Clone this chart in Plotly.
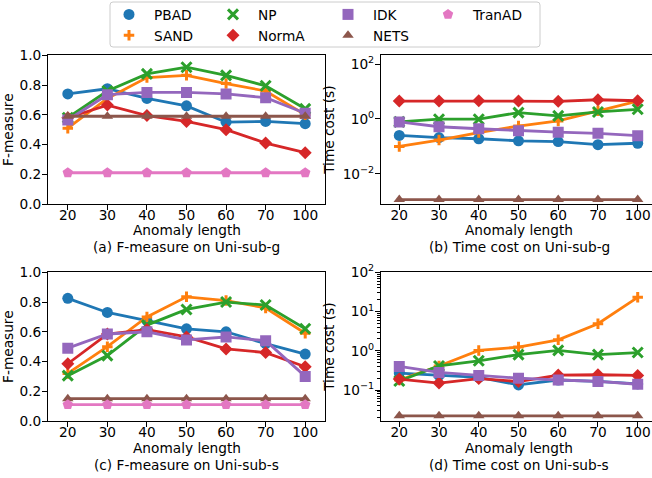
import plotly.graph_objects as go

W, H = 652, 478
FONT = "DejaVu Sans"
FS = 13.7

# ---------------- data ----------------
lengths = ["20", "30", "40", "50", "60", "70", "100"]
methods = ["PBAD", "SAND", "NP", "NormA", "IDK", "NETS", "TranAD"]

# (a) F-measure on Uni-sub-g
fm_g_PBAD = [0.74, 0.775, 0.71, 0.66, 0.55, 0.555, 0.54]
fm_g_SAND = [0.51, 0.71, 0.85, 0.865, 0.81, 0.76, 0.60]
fm_g_NP = [0.58, 0.76, 0.875, 0.92, 0.865, 0.795, 0.64]
fm_g_NormA = [0.58, 0.665, 0.595, 0.555, 0.50, 0.41, 0.345]
fm_g_IDK = [0.565, 0.735, 0.75, 0.75, 0.74, 0.715, 0.61]
fm_g_NETS = [0.59, 0.59, 0.59, 0.59, 0.59, 0.59, 0.59]
fm_g_TranAD = [0.21, 0.21, 0.21, 0.21, 0.21, 0.21, 0.21]

# (b) Time cost on Uni-sub-g (s)
tc_g_PBAD = [0.25, 0.21, 0.19, 0.16, 0.15, 0.115, 0.13]
tc_g_SAND = [0.10, 0.17, 0.32, 0.55, 0.85, 2.0, 4.5]
tc_g_NP = [0.78, 0.98, 0.98, 1.7, 1.3, 1.8, 2.25]
tc_g_NormA = [4.5, 4.5, 4.6, 4.5, 4.4, 5.0, 4.6]
tc_g_IDK = [0.78, 0.52, 0.44, 0.37, 0.33, 0.30, 0.245]
tc_g_NETS = [0.00115, 0.00115, 0.00115, 0.00115, 0.00115, 0.00115, 0.00115]

# (c) F-measure on Uni-sub-s
fm_s_PBAD = [0.825, 0.73, 0.675, 0.62, 0.60, 0.52, 0.45]
fm_s_SAND = [0.32, 0.50, 0.70, 0.835, 0.81, 0.76, 0.59]
fm_s_NP = [0.305, 0.44, 0.645, 0.75, 0.80, 0.78, 0.62]
fm_s_NormA = [0.385, 0.585, 0.615, 0.565, 0.485, 0.46, 0.365]
fm_s_IDK = [0.49, 0.585, 0.60, 0.545, 0.565, 0.54, 0.30]
fm_s_NETS = [0.15, 0.15, 0.15, 0.15, 0.15, 0.15, 0.15]
fm_s_TranAD = [0.11, 0.11, 0.11, 0.11, 0.11, 0.11, 0.11]

# (d) Time cost on Uni-sub-s (s)
tc_s_PBAD = [0.27, 0.235, 0.21, 0.135, 0.18, 0.165, 0.143]
tc_s_SAND = [0.18, 0.41, 1.02, 1.24, 1.9, 4.9, 23.0]
tc_s_NP = [0.17, 0.41, 0.555, 0.80, 1.02, 0.80, 0.90]
tc_s_NormA = [0.19, 0.15, 0.196, 0.164, 0.24, 0.245, 0.235]
tc_s_IDK = [0.40, 0.28, 0.235, 0.20, 0.18, 0.165, 0.14]
tc_s_NETS = [0.022, 0.022, 0.022, 0.022, 0.022, 0.022, 0.022]

time_ticks_g = [0.01, 1, 100]
time_ticktext_g = ["10<sup>\u22122</sup>", "10<sup>0</sup>", "10<sup>2</sup>"]
time_ticks_s = [0.1, 1, 10, 100]
time_ticktext_s = ["10<sup>\u22121</sup>", "10<sup>0</sup>", "10<sup>1</sup>", "10<sup>2</sup>"]
fm_ticks = [0.0, 0.2, 0.4, 0.6, 0.8, 1.0]

panels = [
    ("x", "y", {"PBAD": fm_g_PBAD, "SAND": fm_g_SAND, "NP": fm_g_NP, "NormA": fm_g_NormA,
                "IDK": fm_g_IDK, "NETS": fm_g_NETS, "TranAD": fm_g_TranAD}),
    ("x2", "y2", {"PBAD": tc_g_PBAD, "SAND": tc_g_SAND, "NP": tc_g_NP, "NormA": tc_g_NormA,
                  "IDK": tc_g_IDK, "NETS": tc_g_NETS}),
    ("x3", "y3", {"PBAD": fm_s_PBAD, "SAND": fm_s_SAND, "NP": fm_s_NP, "NormA": fm_s_NormA,
                  "IDK": fm_s_IDK, "NETS": fm_s_NETS, "TranAD": fm_s_TranAD}),
    ("x4", "y4", {"PBAD": tc_s_PBAD, "SAND": tc_s_SAND, "NP": tc_s_NP, "NormA": tc_s_NormA,
                  "IDK": tc_s_IDK, "NETS": tc_s_NETS}),
]

# ---------------- styles ----------------
colors = {"PBAD": "#1f77b4", "SAND": "#ff7f0e", "NP": "#2ca02c", "NormA": "#d62728",
          "IDK": "#9467bd", "NETS": "#8c564b", "TranAD": "#e377c2"}
symbols = {"PBAD": "circle", "SAND": "cross-thin-open", "NP": "x-thin-open", "NormA": "diamond",
           "IDK": "square", "NETS": "triangle-up", "TranAD": "pentagon"}
sizes = {"PBAD": 11, "SAND": 7.5, "NP": 10, "NormA": 10, "IDK": 11, "NETS": 10, "TranAD": 11}
legend_of = {"PBAD": "legend", "SAND": "legend", "NP": "legend2", "NormA": "legend2",
             "IDK": "legend3", "NETS": "legend3", "TranAD": "legend4"}


def marker(m):
    thin = symbols[m].endswith("thin-open")
    return dict(symbol=symbols[m], size=sizes[m], color=colors[m],
                line=dict(color=colors[m], width=3 if thin else 0))


fig = go.Figure()
for xa, ya, data in panels:
    for m in methods:
        if m not in data:
            continue
        fig.add_trace(go.Scatter(
            x=lengths, y=data[m], mode="lines+markers", name=m,
            xaxis=xa, yaxis=ya, showlegend=False,
            line=dict(color=colors[m], width=2.8),
            marker=marker(m),
        ))

# legend-only entries (markers only, like the reference)
for m in methods:
    fig.add_trace(go.Scatter(
        x=[None], y=[None], mode="markers", name=m, xaxis="x", yaxis="y",
        marker=marker(m), legend=legend_of[m], showlegend=True,
    ))


def px(v):
    return v / W


def py(v):
    return 1 - v / H


axis_common = dict(showline=True, linecolor="black", linewidth=1.1, ticks="outside",
                   ticklen=5, tickwidth=1.1, tickcolor="black", showgrid=False,
                   zeroline=False, automargin=False,
                   tickfont=dict(family=FONT, size=FS, color="black"))
xcat = dict(type="category", categoryorder="array", categoryarray=lengths, ticklabelstandoff=-6)

top_dom = [py(204), py(55.3)]
bot_dom = [py(421), py(272.3)]
left_dom = [px(48), px(325)]
right_dom = [px(381), 1.0]

ytitle_fm = dict(text="F-measure", font=dict(family=FONT, size=FS, color="black"), standoff=4)
ytitle_tc = dict(text="Time cost (s)", font=dict(family=FONT, size=FS, color="black"), standoff=4)

fig.update_layout(
    template="none",
    width=W, height=H, margin=dict(l=0, r=0, t=0, b=0, autoexpand=False),
    paper_bgcolor="white", plot_bgcolor="white",
    font=dict(family=FONT, size=FS, color="black"),
    hovermode=False,
    xaxis=dict(**axis_common, **xcat, domain=left_dom, anchor="y", range=[-0.5, 6.5], mirror=True),
    yaxis=dict(**axis_common, domain=top_dom, anchor="x", range=[0, 1], tickvals=fm_ticks,
               tickformat=".1f", mirror=True, title=ytitle_fm, ticklabelstandoff=-2),
    xaxis2=dict(**axis_common, **xcat, domain=right_dom, anchor="y2", range=[-0.46, 6.36], mirror=True),
    yaxis2=dict(**axis_common, domain=top_dom, anchor="x2", type="log", range=[-3.1, 2.32],
                tickvals=time_ticks_g, ticktext=time_ticktext_g, mirror=False, title=ytitle_tc,
                ticklabelstandoff=-2),
    xaxis3=dict(**axis_common, **xcat, domain=left_dom, anchor="y3", range=[-0.5, 6.5], mirror=True),
    yaxis3=dict(**axis_common, domain=bot_dom, anchor="x3", range=[0, 1], tickvals=fm_ticks,
                tickformat=".1f", mirror=True, title=ytitle_fm, ticklabelstandoff=-2),
    xaxis4=dict(**axis_common, **xcat, domain=right_dom, anchor="y4", range=[-0.46, 6.36], mirror=True),
    yaxis4=dict(**axis_common, domain=bot_dom, anchor="x4", type="log", range=[-1.79, 2.0],
                tickvals=time_ticks_s, ticktext=time_ticktext_s, mirror=False, title=ytitle_tc,
                ticklabelstandoff=-2,
                minor=dict(ticks="outside", ticklen=3, tickwidth=0.9, tickcolor="black",
                           dtick="D1", showgrid=False)),
)

leg_common = dict(xanchor="left", yanchor="top", bgcolor="rgba(0,0,0,0)", borderwidth=0,
                  font=dict(family=FONT, size=FS, color="black"), itemwidth=40,
                  tracegroupgap=0, orientation="v")
fig.update_layout(
    legend=dict(**leg_common, x=px(104), y=py(-1)),
    legend2=dict(**leg_common, x=px(208), y=py(-1)),
    legend3=dict(**leg_common, x=px(323), y=py(-1)),
    legend4=dict(**leg_common, x=px(423), y=py(-1)),
)

# legend frame (rounded, light grey)
x0, x1, y0, y1, r = 110, 540, 2, 47, 3
path = (f"M {px(x0 + r)} {py(y0)} L {px(x1 - r)} {py(y0)} Q {px(x1)} {py(y0)} {px(x1)} {py(y0 + r)} "
        f"L {px(x1)} {py(y1 - r)} Q {px(x1)} {py(y1)} {px(x1 - r)} {py(y1)} "
        f"L {px(x0 + r)} {py(y1)} Q {px(x0)} {py(y1)} {px(x0)} {py(y1 - r)} "
        f"L {px(x0)} {py(y0 + r)} Q {px(x0)} {py(y0)} {px(x0 + r)} {py(y0)} Z")
fig.add_shape(type="path", path=path, xref="paper", yref="paper",
              line=dict(color="#cccccc", width=1), fillcolor="rgba(255,255,255,0.8)", layer="below")

captions = [
    (186.5, 230, "Anomaly length"), (186.5, 247, "(a) F-measure on Uni-sub-g"),
    (519, 230, "Anomaly length"), (519, 247, "(b) Time cost on Uni-sub-g"),
    (186.5, 448, "Anomaly length"), (186.5, 465, "(c) F-measure on Uni-sub-s"),
    (519, 448, "Anomaly length"), (519, 465, "(d) Time cost on Uni-sub-s"),
]
for cx, cy, txt in captions:
    fig.add_annotation(x=px(cx), y=py(cy), xref="paper", yref="paper", text=txt,
                       showarrow=False, xanchor="center", yanchor="middle",
                       font=dict(family=FONT, size=FS, color="black"))

# remove the browser's default 8px page margin so the figure sits at the window origin
fig.write_html("out.html", config={"displayModeBar": False},
               post_script="document.body.style.margin='0';")
